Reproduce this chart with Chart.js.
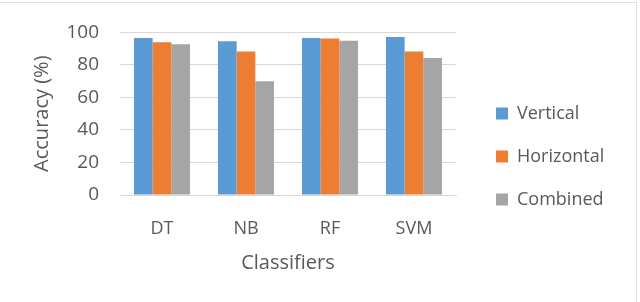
<!DOCTYPE html>
<html>
<head>
<meta charset="utf-8">
<script src="https://cdn.jsdelivr.net/npm/chart.js@4/dist/chart.umd.min.js"></script>
<style>
    html, body { margin: 0; padding: 0; background: #fff; }
    #wrap { position: relative; width: 640px; height: 302px; }
    #frame { position: absolute; left: -1px; top: 2px; width: 638px; height: 310px; border: 1px solid #e0e0e0; box-sizing: border-box; }
    canvas { position: absolute; left: 0; top: 0; }
</style>
</head>
<body>
<div id="wrap">
    <div id="frame"></div>
    <canvas id="accuracyChart" width="640" height="302"></canvas>
</div>
<script>
// Classifier accuracy per feature set
const classifiers = ["DT", "NB", "RF", "SVM"];
const verticalAcc = [96.6, 94.5, 96.6, 97.2];
const horizontalAcc = [93.9, 88.3, 96.2, 88.3];
const combinedAcc = [92.7, 69.9, 94.9, 84.2];
const yTicks = [0, 20, 40, 60, 80, 100];

const textColor = "#595959";
const fontFamily = "'Open Sans', sans-serif";
const legendWidth = 184;
const legendGap = 15;
const legendDrop = 4;

// fixed legend width, items pushed right/down so there is a gap after the plot
const legendSpacer = {
    id: "legendSpacer",
    beforeInit(chart) {
        const origFit = chart.legend.fit;
        chart.legend.fit = function () {
            origFit.call(this);
            this.width = legendWidth;
        };
    },
    afterLayout(chart) {
        chart.legend.left += legendGap;
        chart.legend.top += legendDrop;
        chart.legend.bottom += legendDrop;
    }
};

function makeDataset(label, data, color) {
    return {
        label: label,
        data: data,
        backgroundColor: color,
        borderWidth: 0,
        barPercentage: 1.0,
        categoryPercentage: 0.667
    };
}

const ctx = document.getElementById("accuracyChart").getContext("2d");
new Chart(ctx, {
    type: "bar",
    data: {
        labels: classifiers,
        datasets: [
            makeDataset("Vertical", verticalAcc, "#5B9BD5"),
            makeDataset("Horizontal", horizontalAcc, "#ED7D31"),
            makeDataset("Combined", combinedAcc, "#A5A5A5")
        ]
    },
    plugins: [legendSpacer],
    options: {
        responsive: false,
        animation: false,
        layout: { padding: { top: 30, right: 0, bottom: 27, left: 0 } },
        plugins: {
            legend: {
                position: "right",
                labels: {
                    color: textColor,
                    font: { family: fontFamily, size: 18 },
                    boxWidth: 12,
                    boxHeight: 12,
                    padding: 25
                }
            },
            tooltip: { enabled: false }
        },
        scales: {
            x: {
                grid: { display: false },
                border: { display: true, color: "#D9D9D9", width: 1 },
                ticks: {
                    color: textColor,
                    font: { family: fontFamily, size: 18 },
                    padding: 15
                },
                title: {
                    display: true,
                    text: "Classifiers",
                    color: textColor,
                    font: { family: fontFamily, size: 20 },
                    padding: { top: 8, bottom: 0 }
                },
                afterFit(scale) { scale.height = 80; }
            },
            y: {
                min: 0,
                max: 100,
                afterBuildTicks(scale) {
                    scale.ticks = yTicks.map(v => ({ value: v }));
                },
                grid: { color: "#D9D9D9", lineWidth: 1, drawTicks: false },
                border: { display: false },
                ticks: {
                    color: textColor,
                    font: { family: fontFamily, size: 19 },
                    padding: 21
                },
                title: {
                    display: true,
                    text: "Accuracy (%)",
                    color: textColor,
                    font: { family: fontFamily, size: 20 },
                    padding: { top: 30, bottom: 0 }
                },
                afterFit(scale) { scale.width = 120; }
            }
        }
    }
});
</script>
</body>
</html>
